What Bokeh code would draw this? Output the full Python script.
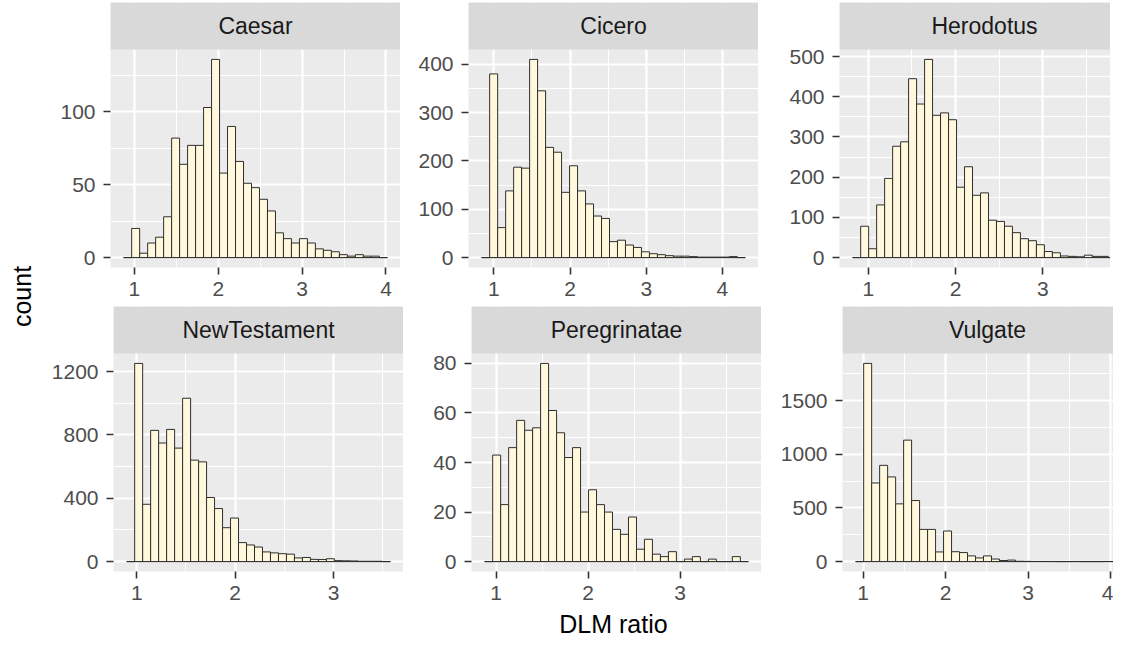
import numpy as np
from bokeh.plotting import figure
from bokeh.models import Range1d, FixedTicker
from bokeh.layouts import row, column
from bokeh.embed import file_html
from bokeh.resources import INLINE
from bokeh.core.properties import value

# ---------------- data ----------------
panel_names = ["Caesar", "Cicero", "Herodotus", "NewTestament", "Peregrinatae", "Vulgate"]

caesar_counts = [0, 20, 3, 10, 14, 28, 82, 64, 77, 77, 103, 136, 58, 90, 66, 51, 48, 40, 32, 17,
                 13, 10, 13, 10, 6, 5, 4, 2, 1, 2, 1, 1, 0]
cicero_counts = [0, 380, 62, 138, 187, 185, 410, 345, 228, 218, 135, 190, 138, 111, 86, 81, 33, 36,
                 26, 21, 12, 8, 6, 4, 3, 3, 2, 1, 1, 1, 1, 2, 0]
herodotus_counts = [0, 78, 22, 131, 197, 277, 288, 445, 382, 493, 354, 360, 343, 175, 226, 155, 161,
                    93, 90, 78, 62, 47, 42, 32, 15, 12, 4, 3, 2, 6, 3, 3, 0]
newtestament_counts = [0, 1252, 362, 829, 749, 835, 717, 1032, 641, 630, 405, 335, 214, 275, 120, 105,
                       92, 61, 55, 50, 47, 23, 26, 14, 13, 18, 6, 5, 4, 2, 2, 2, 0]
peregrinatae_counts = [0, 43, 23, 46, 57, 53, 54, 80, 61, 52, 42, 46, 20, 29, 23, 20, 13, 11, 18, 5,
                       9, 3, 2, 4, 0, 1, 2, 0, 1, 0, 0, 2, 0]
vulgate_counts = [0, 1847, 733, 897, 789, 538, 1132, 569, 300, 300, 90, 285, 92, 84, 53, 34, 53, 24,
                  10, 14, 3, 2, 1, 1, 1, 0, 0, 1, 0, 0, 0, 1, 0]

# first / last bin edge (DLM ratio) of each panel's histogram
bin_start = [0.872, 0.841, 0.821, 0.897, 0.875, 0.909]
bin_end = [4.016, 4.300, 3.840, 3.578, 3.741, 4.106]

x_ticks = [[1, 2, 3, 4], [1, 2, 3, 4], [1, 2, 3], [1, 2, 3], [1, 2, 3], [1, 2, 3, 4]]
x_minor = [[1.5, 2.5, 3.5], [1.5, 2.5, 3.5], [1.5, 2.5, 3.5], [1.5, 2.5, 3.5], [1.5, 2.5, 3.5],
           [1.5, 2.5, 3.5]]
y_ticks = [[0, 50, 100], [0, 100, 200, 300, 400], [0, 100, 200, 300, 400, 500],
           [0, 400, 800, 1200], [0, 20, 40, 60, 80], [0, 500, 1000, 1500]]
y_minor = [[25, 75, 125], [50, 150, 250, 350], [50, 150, 250, 350, 450],
           [200, 600, 1000], [10, 30, 50, 70], [250, 750, 1250, 1750]]

all_counts = [caesar_counts, cicero_counts, herodotus_counts,
              newtestament_counts, peregrinatae_counts, vulgate_counts]

x_title = "DLM ratio"
y_title = "count"

# ---------------- styling / layout ----------------
FONT = "Liberation Sans"
PANEL_BG = "#EBEBEB"
STRIP_BG = "#D9D9D9"
FILL = "#FFF8DC"
EDGE = "#2E2E2E"
TICK_FONT = "21px"
STRIP_FONT = "23px"
TITLE_FONT = "25px"

FULL_W = 290          # full panel width (px)
PANEL_H = 218         # panel height (px)
STRIP_H = 47          # strip height (px)
LABEL_W = 48
col_left = [62, 68, 81]
col_frame = [290, 290, 271]
row_top = [2, 0]
row_bottom = [39, 38]
XLAB_H = 28


def make_cell(i, ml, fw, mt, mb):
    counts = all_counts[i]
    n = len(counts)
    edges = np.linspace(bin_start[i], bin_end[i], n + 1)
    span = bin_end[i] - bin_start[i]
    xr0 = bin_start[i] - 0.05 * span
    xr1 = bin_end[i] + 0.05 * span
    xr1_vis = xr0 + (xr1 - xr0) * fw / FULL_W
    ymax = max(counts)
    y0 = -0.05 * ymax
    y1 = 1.05 * ymax
    y_strip_top = y1 + STRIP_H * (y1 - y0) / PANEL_H

    p = figure(x_range=Range1d(xr0, xr1_vis), y_range=Range1d(y0, y_strip_top),
               frame_width=fw, frame_height=PANEL_H + STRIP_H,
               min_border_left=ml, min_border_right=0, min_border_top=mt, min_border_bottom=mb,
               output_backend="svg", toolbar_location=None,
               background_fill_color=PANEL_BG, border_fill_color="white", outline_line_color=None)

    # histogram
    p.line(x=[edges[0], edges[-1]], y=[0, 0], line_color=EDGE, line_width=1)
    p.quad(left=edges[:-1], right=edges[1:], bottom=0, top=counts,
           fill_color=FILL, line_color=EDGE, line_width=1)

    # facet strip (covers grid lines above the panel)
    p.quad(left=[xr0], right=[xr1], bottom=[y1], top=[y_strip_top],
           fill_color=STRIP_BG, line_color=None)
    p.text(x=[(xr0 + xr1) / 2], y=[(y1 + y_strip_top) / 2], text=[panel_names[i]],
           text_align="center", text_baseline="middle",
           text_font=value(FONT), text_font_size=STRIP_FONT, text_color="#1A1A1A")

    p.xaxis.ticker = FixedTicker(ticks=x_ticks[i], minor_ticks=x_minor[i])
    p.yaxis.ticker = FixedTicker(ticks=y_ticks[i], minor_ticks=y_minor[i])
    for ax in (p.xaxis[0], p.yaxis[0]):
        ax.axis_line_color = None
        ax.major_tick_line_color = "#333333"
        ax.major_tick_line_width = 1.6
        ax.major_tick_in = 0
        ax.major_tick_out = 7
        ax.minor_tick_line_color = None
        ax.major_label_text_font = FONT
        ax.major_label_text_font_size = TICK_FONT
        ax.major_label_text_color = "#4D4D4D"
    p.xaxis.major_label_standoff = 7
    p.yaxis.major_label_standoff = 8
    for g in (p.xgrid[0], p.ygrid[0]):
        g.grid_line_color = "white"
        g.grid_line_width = 2.2
        g.minor_grid_line_color = "white"
        g.minor_grid_line_width = 1.1
        g.level = "underlay"
    return p


rows = []
for r in range(2):
    cells = []
    for c in range(3):
        i = r * 3 + c
        cells.append(make_cell(i, col_left[c], col_frame[c], row_top[r], row_bottom[r]))
    rows.append(row(*cells))

grid_w = sum(col_left) + sum(col_frame)
total_h = sum(row_top) + sum(row_bottom) + 2 * (PANEL_H + STRIP_H) + XLAB_H

xlab = figure(x_range=Range1d(0, grid_w), y_range=Range1d(0, XLAB_H), frame_width=grid_w,
              frame_height=XLAB_H, min_border=0, output_backend="svg", toolbar_location=None,
              x_axis_type=None, y_axis_type=None, outline_line_color=None,
              background_fill_color="white", border_fill_color="white")
xlab.grid.visible = False
# centred under the middle column of panels
mid_center = col_left[0] + col_frame[0] + col_left[1] + FULL_W / 2
xlab.text(x=[mid_center], y=[XLAB_H / 2], text=[x_title], text_align="center",
          text_baseline="middle", text_font=value(FONT), text_font_size=TITLE_FONT,
          text_color="black")

ylab = figure(x_range=Range1d(0, LABEL_W), y_range=Range1d(0, total_h), frame_width=LABEL_W,
              frame_height=total_h, min_border=0, output_backend="svg", toolbar_location=None,
              x_axis_type=None, y_axis_type=None, outline_line_color=None,
              background_fill_color="white", border_fill_color="white")
ylab.grid.visible = False
ylab.text(x=[21], y=[total_h - 296], text=[y_title], angle=np.pi / 2, text_align="center",
          text_baseline="middle", text_font=value(FONT), text_font_size=TITLE_FONT,
          text_color="black")

layout = row(ylab, column(*rows, xlab))

with open("out.html", "w") as f:
    f.write(file_html(layout, INLINE))
